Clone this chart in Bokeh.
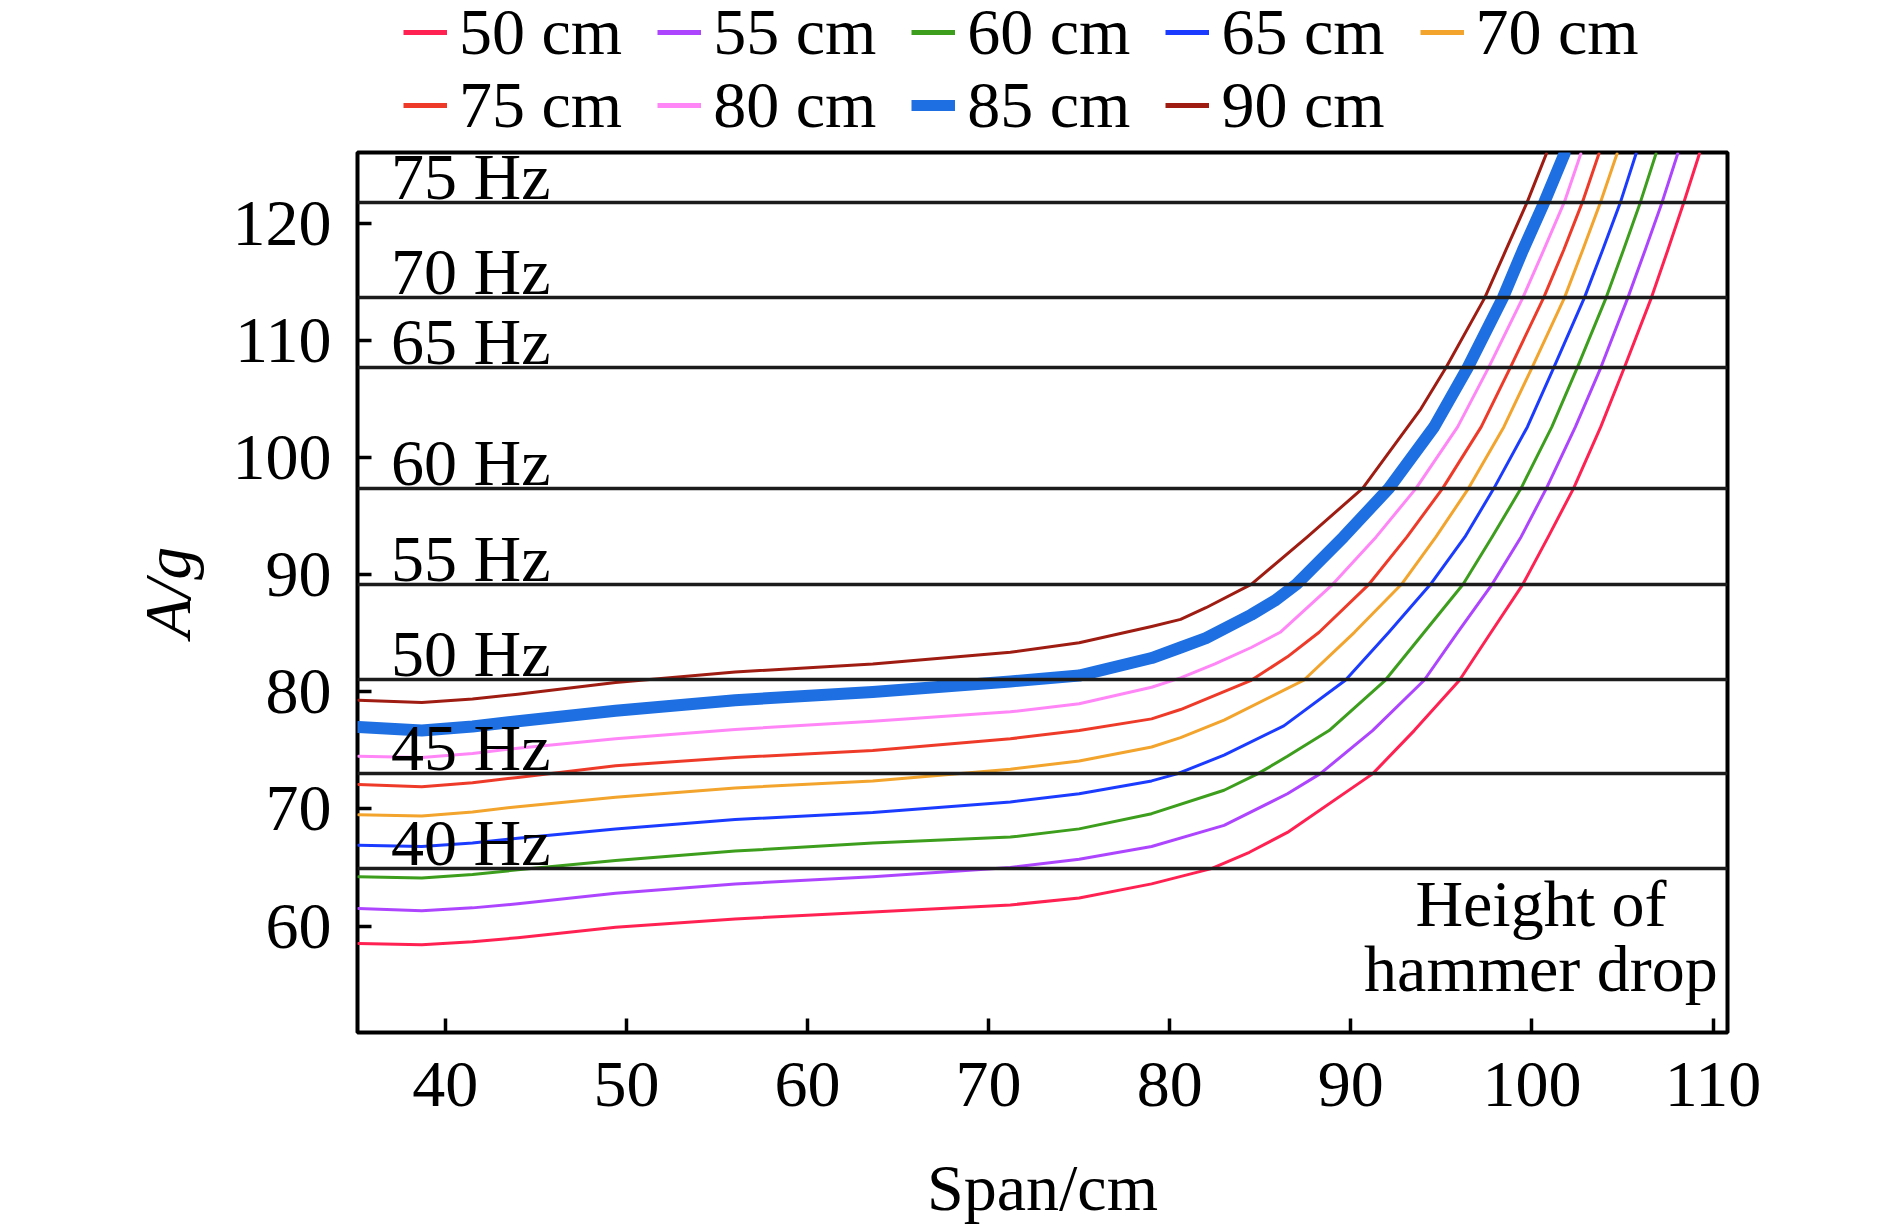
from bokeh.plotting import figure
from bokeh.layouts import column
from bokeh.models import Legend, LegendItem, Range1d, FixedTicker
from bokeh.core.properties import value
from bokeh.embed import file_html
from bokeh.resources import INLINE

# ---------------- data ----------------
drop_heights = ["50 cm", "55 cm", "60 cm", "65 cm", "70 cm", "75 cm", "80 cm", "85 cm", "90 cm"]

span_50 = [35.2, 38.7, 41.5, 44, 49.4, 56, 63.6, 71.2, 75, 79.0, 82.3, 84.4, 86.5, 91.2, 93.5, 96.0, 97.7, 99.5, 100.9, 102.3, 103.8, 105.1, 106.6, 107.5, 108.4, 109.25]
acc_50 = [58.5, 58.4, 58.65, 59.0, 59.9, 60.6, 61.2, 61.8, 62.4, 63.6, 64.9, 66.3, 68.0, 73.0, 76.7, 81.0, 85.0, 89.2, 93.25, 97.4, 102.65, 107.7, 113.7, 117.75, 121.9, 126.0]

span_55 = [35.2, 38.7, 41.5, 44, 49.4, 56, 63.6, 71.2, 75, 79.0, 83.0, 86.5, 88.3, 91.2, 94.05, 95.9, 97.8, 99.4, 100.8, 102.4, 103.8, 105.3, 106.25, 107.2, 108.05]
acc_55 = [61.5, 61.3, 61.55, 61.9, 62.8, 63.6, 64.2, 65.0, 65.7, 66.8, 68.6, 71.3, 73.0, 76.7, 81.0, 85.1, 89.2, 93.25, 97.4, 102.65, 107.7, 113.7, 117.75, 121.9, 126.0]

span_60 = [35.2, 38.7, 41.5, 44, 49.4, 56, 63.6, 71.2, 75, 79.0, 83.0, 84.85, 86.5, 88.8, 91.9, 94.05, 96.2, 97.8, 99.4, 101.1, 102.5, 104.1, 105.05, 106.0, 106.85]
acc_60 = [64.2, 64.1, 64.4, 64.8, 65.6, 66.4, 67.1, 67.6, 68.3, 69.6, 71.6, 73.0, 74.5, 76.7, 81.0, 85.1, 89.2, 93.25, 97.4, 102.65, 107.7, 113.7, 117.75, 121.9, 126.0]

span_65 = [35.2, 38.7, 41.5, 44, 49.4, 56, 63.6, 71.2, 75, 79.0, 80.4, 83.0, 86.3, 89.7, 92.1, 94.4, 96.3, 97.9, 99.75, 101.2, 102.9, 103.9, 104.9, 105.75]
acc_65 = [66.9, 66.8, 67.1, 67.5, 68.3, 69.1, 69.7, 70.6, 71.3, 72.4, 73.0, 74.6, 77.1, 81.0, 85.1, 89.2, 93.25, 97.4, 102.65, 107.7, 113.7, 117.75, 121.9, 126.0]

span_70 = [35.2, 38.7, 41.5, 44, 49.4, 56, 63.6, 71.2, 75, 79.0, 80.6, 83.0, 86.5, 87.4, 90.2, 92.8, 94.7, 96.5, 98.45, 100.0, 101.8, 102.8, 103.8, 104.7]
acc_70 = [69.5, 69.4, 69.75, 70.2, 71.0, 71.8, 72.4, 73.4, 74.1, 75.3, 76.1, 77.6, 80.3, 81.0, 85.1, 89.2, 93.25, 97.4, 102.65, 107.7, 113.7, 117.75, 121.9, 126.0]

span_75 = [35.2, 38.7, 41.5, 44, 49.4, 56, 63.6, 71.2, 75, 79.0, 80.6, 82.5, 84.5, 86.5, 88.25, 91.0, 93.1, 95.07, 97.2, 98.8, 100.65, 101.75, 102.8, 103.7]
acc_75 = [72.1, 71.9, 72.25, 72.7, 73.7, 74.4, 75.0, 76.0, 76.7, 77.7, 78.5, 79.7, 81.0, 83.0, 85.1, 89.2, 93.25, 97.4, 102.65, 107.7, 113.7, 117.75, 121.9, 126.0]

span_80 = [35.2, 38.7, 41.5, 44, 49.4, 56, 63.6, 71.2, 75, 79.0, 80.6, 82.5, 84.5, 86.1, 89.0, 91.4, 93.6, 95.9, 97.6, 99.5, 100.65, 101.8, 102.7]
acc_80 = [74.5, 74.4, 74.75, 75.2, 76.0, 76.8, 77.5, 78.3, 79.0, 80.4, 81.2, 82.4, 83.8, 85.1, 89.2, 93.25, 97.4, 102.65, 107.7, 113.7, 117.75, 121.9, 126.0]

span_85 = [35.2, 38.7, 41.5, 44, 49.4, 56, 63.6, 71.2, 75, 79.0, 80.6, 82.0, 84.5, 85.8, 87.0, 89.6, 92.1, 94.6, 96.45, 98.4, 99.5, 100.7, 101.8]
acc_85 = [77.0, 76.7, 77.05, 77.5, 78.4, 79.3, 80.0, 80.9, 81.4, 82.9, 83.8, 84.6, 86.6, 87.8, 89.2, 93.25, 97.4, 102.65, 107.7, 113.7, 117.75, 121.9, 126.0]

span_90 = [35.2, 38.7, 41.5, 44, 49.4, 56, 63.6, 71.2, 75, 79.0, 80.6, 82.0, 84.5, 87.6, 90.65, 93.87, 95.25, 97.4, 98.56, 99.75, 100.8]
acc_90 = [79.3, 79.1, 79.4, 79.8, 80.8, 81.7, 82.4, 83.4, 84.2, 85.6, 86.2, 87.2, 89.2, 93.25, 97.4, 104.2, 107.7, 113.7, 117.75, 121.9, 126.0]

hz_labels = ["40 Hz", "45 Hz", "50 Hz", "55 Hz", "60 Hz", "65 Hz", "70 Hz", "75 Hz"]
hz_levels = [64.9, 73.0, 81.05, 89.2, 97.4, 107.7, 113.7, 121.85]

x_ticks = [40, 50, 60, 70, 80, 90, 100, 110]
y_ticks = [60, 70, 80, 90, 100, 110, 120]

# ---------------- styles ----------------
FONT = "Liberation Serif"
FS = "66px"
colors = ["#ff2152", "#ad45ff", "#3c9e1c", "#1b3cff", "#f2a42c",
          "#ee3b29", "#ff86f6", "#1e6fe2", "#9e1c12"]
widths = [3, 3, 3, 3, 3, 3, 3, 12, 3]
legend_widths = [5, 5, 5, 5, 5, 5, 5, 11, 5]

series = [(span_50, acc_50), (span_55, acc_55), (span_60, acc_60), (span_65, acc_65),
          (span_70, acc_70), (span_75, acc_75), (span_80, acc_80), (span_85, acc_85),
          (span_90, acc_90)]

TOTAL_W = 1886

# ---------------- main plot ----------------
p = figure(output_backend="svg", toolbar_location=None,
           x_range=Range1d(35.15, 110.8), y_range=Range1d(50.9, 126.1),
           min_border_left=357, min_border_right=TOTAL_W - 357 - 1370,
           min_border_top=4, min_border_bottom=185)
p.frame_width = 1370
p.frame_height = 880

p.xgrid.visible = False
p.ygrid.visible = False
p.outline_line_color = "black"
p.outline_line_width = 4
p.background_fill_color = "white"
p.border_fill_color = "white"

for (xs, ys), c, w in zip(series, colors, widths):
    p.line(xs, ys, line_color=c, line_width=w, line_join="round", line_cap="round")

p.hspan(y=hz_levels, line_color="#1c1c1c", line_width=3.5)

p.text(x=[37.0] * len(hz_levels), y=hz_levels, text=hz_labels,
       text_font=value(FONT), text_font_size=FS, text_color="black",
       text_align="left", text_baseline="middle", y_offset=-26)

p.text(x=[100.5, 100.5], y=[60.06, 54.5], text=["Height of", "hammer drop"],
       text_font=value(FONT), text_font_size=FS, text_color="black",
       text_align="center", text_baseline="middle", y_offset=-22)

for ax in (p.xaxis[0], p.yaxis[0]):
    ax.axis_line_color = None
    ax.major_tick_in = 14
    ax.major_tick_out = 0
    ax.minor_tick_in = 0
    ax.minor_tick_out = 0
    ax.major_tick_line_width = 3.5
    ax.major_tick_line_color = "black"
    ax.major_label_text_font = FONT
    ax.major_label_text_font_size = FS
    ax.major_label_text_color = "black"
    ax.axis_label_text_font = FONT
    ax.axis_label_text_font_size = FS
    ax.axis_label_text_color = "black"

p.xaxis.ticker = FixedTicker(ticks=x_ticks)
p.yaxis.ticker = FixedTicker(ticks=y_ticks)
p.xaxis.major_label_standoff = 30
p.yaxis.major_label_standoff = 26
p.xaxis.axis_label = "Span/cm"
p.xaxis.axis_label_text_font_style = "normal"
p.xaxis.axis_label_standoff = 42
p.yaxis.axis_label = "A/g"
p.yaxis.axis_label_text_font_style = "italic"
p.yaxis.axis_label_standoff = 26

# ---------------- legend strip above the plot ----------------
LH = 148
lf = figure(width=TOTAL_W, height=LH, output_backend="svg", toolbar_location=None,
            x_range=Range1d(0, 10), y_range=Range1d(0, 10),
            x_axis_location=None, y_axis_location=None,
            min_border=0, outline_line_color=None)
lf.xgrid.visible = False
lf.ygrid.visible = False
lf.background_fill_color = "white"
lf.border_fill_color = "white"

# legend-only proxies (a single point outside the visible range draws nothing)
proxies = [lf.line(x=[-100], y=[-100], line_color=c, line_width=w)
           for c, w in zip(colors, legend_widths)]


def make_legend(names, rends, loc):
    return Legend(items=[LegendItem(label=h, renderers=[r]) for h, r in zip(names, rends)],
                  orientation="horizontal", location=loc,
                  label_text_font=FONT, label_text_font_size=FS, label_text_color="black",
                  glyph_width=44, glyph_height=30, label_standoff=12, spacing=35,
                  padding=0, margin=0, border_line_color=None,
                  background_fill_alpha=0)


lf.add_layout(make_legend(drop_heights[:5], proxies[:5], (46, 78)))
lf.add_layout(make_legend(drop_heights[5:], proxies[5:], (46, 5)))

layout = column(lf, p)
open("out.html", "w").write(file_html(layout, INLINE))
